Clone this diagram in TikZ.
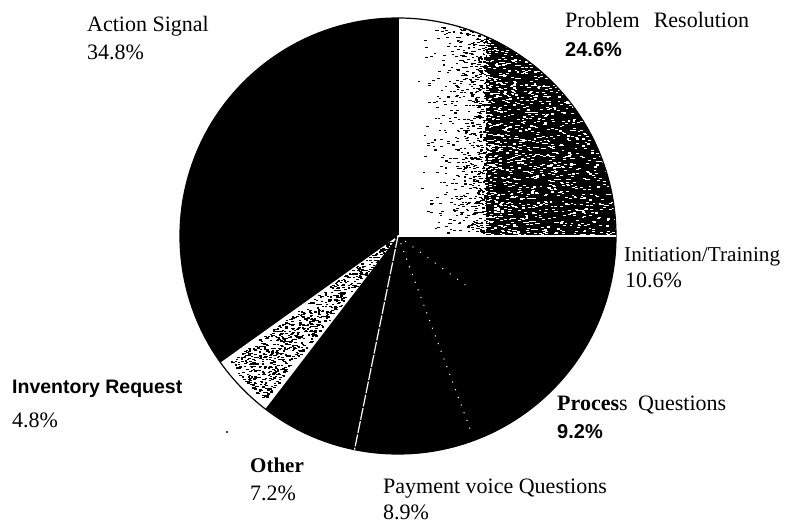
\documentclass[tikz,border=0pt]{standalone}
\usepackage{fontspec}
\setmainfont{Liberation Serif}
\setsansfont{Liberation Sans}
\usetikzlibrary{calc}
\begin{document}
\begin{tikzpicture}[x=1pt,y=1pt,
  lbl/.style={anchor=base west, inner sep=0pt, font=\fontsize{22}{26}\selectfont},
  boldlbl/.style={anchor=base west, inner sep=0pt, font=\fontsize{21}{25}\selectfont\bfseries},
  sanslbl/.style={anchor=base west, inner sep=0pt, font=\fontsize{19.5}{24}\selectfont\sffamily\bfseries},
  pctbold/.style={anchor=base west, inner sep=0pt, font=\fontsize{20}{24}\selectfont\sffamily\bfseries},
  septhin/.style={white, line width=1.2pt},
  sepdots/.style={white, line width=1.3pt, line cap=round, dash pattern=on 0.2pt off 8pt},
  rim/.style={black, line width=1.2pt}]
\pgfmathsetseed{4242}
\def\R{218}
\path[use as bounding box] (0,0) rectangle (785,523);
\clip (0,0) rectangle (785,523);
\fill[white] (0,0) rectangle (785,523);

% centre and rim points of the slice boundaries
\coordinate (c) at (398,287);
\foreach \n/\a in {pr/0, as/90, ir/215.5, ot/232.5, pv/258.5, pq/290.5, it/324}{
  \coordinate (\n) at ($(c)+(\a:\R pt)$);
}

% solid slices
\fill[black] (c) circle[radius=\R pt];

% Problem Resolution: white fading into a grainy dark texture
\begin{scope}
  \clip (c) -- (pr) arc[start angle=0, end angle=90, radius=\R pt] -- cycle;
  \fill[white] (c) rectangle (620,510);
  \fill[black] (486,287) rectangle (620,510);
  \foreach \i in {1,...,900}{
    \pgfmathsetmacro\px{488-72*rnd*rnd}
    \pgfmathsetmacro\py{287+222*rnd}
    \fill[black] (\px,\py) rectangle ++(2.6,1.1);
  }
  \foreach \i in {1,...,1700}{
    \pgfmathsetmacro\px{484+134*rnd^1.3}
    \pgfmathsetmacro\py{287+222*rnd}
    \fill[white] (\px,\py) rectangle ++(2.8,1.1);
  }
\end{scope}

% Inventory Request: light stipple
\fill[white] (c) -- (ir) arc[start angle=215.5, end angle=232.5, radius=\R pt] -- cycle;
\foreach \i in {1,...,800}{
  \pgfmathsetmacro\ang{217+14*rnd}
  \pgfmathsetmacro\rad{212*sqrt(rnd)}
  \fill[black] ($(c)+(\ang:\rad pt)$) rectangle ++(2.4,1.2);
}

% rim and slice boundaries
\draw[rim] (c) circle[radius=\R pt];
\draw[black, line width=1.5pt] (c) -- (as);
\draw[septhin, line width=1.6pt] (c) -- (pr);
\draw[septhin, dash pattern=on 12pt off 1.5pt] (c) -- (pv);
\draw[sepdots] (c) -- ($(c)!0.96!(pq)$);
\draw[sepdots, dash pattern=on 0.2pt off 9pt] (c) -- ($(c)!0.38!(it)$);

% labels
\node[lbl] (asL) at (87,491) {Action Signal};
\node[lbl] (asP) at (87,463) {34.8\%};
\node[lbl] (prL) at (565,495) {Problem\hspace{14pt}Resolution};
\node[pctbold] (prP) at (565,466) {24.6\%};
\node[lbl, font=\fontsize{21.2}{25}\selectfont] (itL) at (624,261) {Initiation/Training};
\node[lbl] (itP) at (625,236) {10.6\%};
\node[lbl] (pqL) at (557,113) {\textbf{Proces}s};
\node[lbl] (pqQ) at (638,113) {Questions};
\node[pctbold] (pqP) at (557,85) {9.2\%};
\node[lbl] (pvL) at (383,30) {Payment voice Questions};
\node[lbl] (pvP) at (383,4) {8.9\%};
\node[boldlbl] (otL) at (250,51) {Other};
\node[lbl] (otP) at (250,23) {7.2\%};
\node[sanslbl] (irL) at (12,130) {Inventory Request};
\node[lbl] (irP) at (12,96) {4.8\%};
\fill[black] (227,91) circle[radius=1.2pt];
\end{tikzpicture}
\end{document}
